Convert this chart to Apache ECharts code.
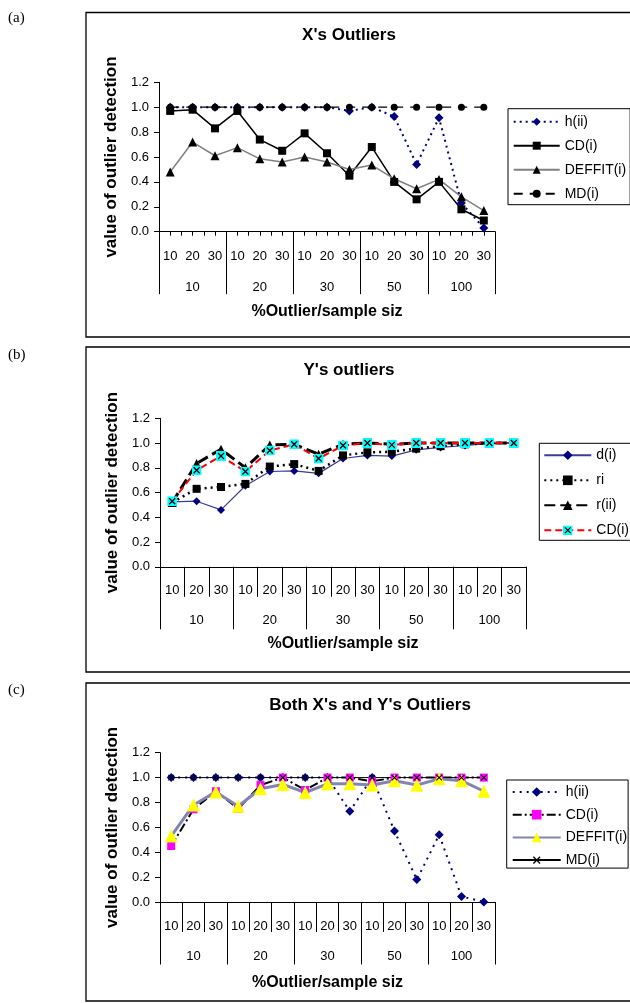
<!DOCTYPE html>
<html><head><meta charset="utf-8">
<script src="https://cdn.jsdelivr.net/npm/echarts@6/dist/echarts.min.js"></script>
<style>html,body{margin:0;padding:0;background:#fff}#c{width:630px;height:1003px}</style>
</head><body><div id="c"></div>
<script>
// ---------- data ----------
const subLabels = ['10','20','30','10','20','30','10','20','30','10','20','30','10','20','30'];
const groupLabels = ['10','20','30','50','100'];
const xTitle = '%Outlier/sample siz';
const yTitle = 'value of outlier detection';
const titles = ["X's Outliers", "Y's outliers", "Both X's and Y's Outliers"];
const panelLabels = ['(a)', '(b)', '(c)'];

// (a) X's outliers
const aH   = [1.0,1.0,1.0,1.0,1.0,1.0,1.0,1.0,0.97,1.0,0.925,0.54,0.915,0.23,0.03];
const aCD  = [0.97,0.98,0.83,0.97,0.74,0.65,0.79,0.63,0.45,0.68,0.40,0.26,0.40,0.18,0.09];
const aDF  = [0.48,0.72,0.61,0.675,0.585,0.56,0.60,0.56,0.50,0.535,0.425,0.345,0.42,0.28,0.17];
const aMD  = [1.0,1.0,1.0,1.0,1.0,1.0,1.0,1.0,1.0,1.0,1.0,1.0,1.0,1.0,1.0];

// (b) Y's outliers
const bD   = [0.525,0.53,0.46,0.655,0.77,0.775,0.755,0.875,0.90,0.895,0.945,0.965,0.98,0.995,1.0];
const bRi  = [0.52,0.63,0.645,0.67,0.81,0.83,0.775,0.90,0.925,0.93,0.955,0.975,0.99,1.0,1.0];
const bR   = [0.52,0.835,0.95,0.80,0.985,0.99,0.91,0.99,1.0,0.99,1.0,1.0,1.0,1.0,1.0];
const bCD  = [0.53,0.78,0.895,0.77,0.94,0.99,0.875,0.98,1.0,0.985,1.0,1.0,1.0,1.0,1.0];

// (c) Both X's and Y's outliers
const cH   = [1.0,1.0,1.0,1.0,1.0,1.0,1.0,1.0,0.73,1.0,0.57,0.18,0.54,0.045,0.0];
const cCD  = [0.45,0.745,0.89,0.75,0.94,1.0,0.90,1.0,1.0,0.97,1.0,1.0,1.0,1.0,1.0];
const cDF  = [0.53,0.78,0.885,0.77,0.91,0.945,0.88,0.95,0.95,0.94,0.975,0.94,0.99,0.975,0.89];
const cMD  = [1.0,1.0,1.0,1.0,1.0,1.0,1.0,1.0,1.0,1.0,1.0,1.0,1.0,1.0,1.0];

// ---------- styling ----------
const F = "'Liberation Sans', Arial, sans-serif";
const svgSym = s => 'image://data:image/svg+xml;charset=utf-8,' + encodeURIComponent(s);
const cyanX = svgSym("<svg xmlns='http://www.w3.org/2000/svg' width='20' height='20' viewBox='0 0 20 20'><rect width='20' height='20' fill='#00FFFF'/><path d='M4 4L16 16M16 4L4 16' stroke='#000' stroke-width='2.6'/></svg>");
const xMark = svgSym("<svg xmlns='http://www.w3.org/2000/svg' width='20' height='20' viewBox='0 0 20 20'><path d='M3 3L17 17M17 3L3 17' stroke='#000' stroke-width='2.6'/></svg>");

const grids = [
  {left:159, top:82.3, width:336, height:149.4},
  {left:160, top:418.3, width:366, height:148.5},
  {left:160, top:752.7, width:335, height:149.3}
];

function yAx(gi){
  return {type:'value', gridIndex:gi, min:0, max:1.2, interval:0.2,
    axisLine:{show:true, onZero:false, lineStyle:{color:'#000', width:1}},
    axisTick:{show:true, length:5, lineStyle:{color:'#000'}},
    axisLabel:{color:'#000', fontSize:13, fontFamily:F, margin:10, formatter:v=>v.toFixed(1)},
    splitLine:{show:false},
    name:yTitle, nameLocation:'middle', nameGap:33,
    nameTextStyle:{fontWeight:'bold', fontSize:17, fontFamily:F, color:'#000'}};
}
function xMain(gi, tickLen, showTick, margin, nameGap){
  return {type:'category', gridIndex:gi, position:'bottom', data:subLabels, boundaryGap:true,
    axisLine:{show:true, onZero:false, lineStyle:{color:'#000', width:1}},
    axisTick:{show:showTick, length:tickLen, interval:0, lineStyle:{color:'#000'}},
    axisLabel:{interval:0, color:'#000', fontSize:13, fontFamily:F, margin:margin},
    splitLine:{show:false},
    name:xTitle, nameLocation:'middle', nameGap:nameGap,
    nameTextStyle:{fontWeight:'bold', fontSize:16, fontFamily:F, color:'#000'}};
}
function xGroup(gi, margin){
  return {type:'category', gridIndex:gi, position:'bottom', offset:0, data:groupLabels, boundaryGap:true,
    axisLine:{show:false},
    axisTick:{show:true, length:62.5, interval:0, lineStyle:{color:'#000'}},
    axisLabel:{interval:0, color:'#000', fontSize:13, fontFamily:F, margin:margin},
    splitLine:{show:false}};
}
const halfTicks = {type:'value', gridIndex:0, position:'bottom', offset:0, min:0, max:30, interval:1,
  axisLine:{show:false}, axisTick:{show:true, length:4, lineStyle:{color:'#000'}},
  axisLabel:{show:false}, splitLine:{show:false}};

function ln(name, data, xi, yi, o){
  return Object.assign({type:'line', name:name, data:data, xAxisIndex:xi, yAxisIndex:yi,
    animation:false, showSymbol:true, z:2}, o);
}
const navy = '#000080';
const series = [
  // (a)
  ln('h(ii)', aH, 0, 0, {symbol:'diamond', symbolSize:9, itemStyle:{color:navy}, lineStyle:{color:navy, width:2, type:[2,4]}}),
  ln('CD(i)', aCD, 0, 0, {symbol:'rect', symbolSize:8, itemStyle:{color:'#000'}, lineStyle:{color:'#000', width:1.5, type:'solid'}}),
  ln('DEFFIT(i)', aDF, 0, 0, {symbol:'triangle', symbolSize:9, itemStyle:{color:'#000'}, lineStyle:{color:'#808080', width:1.5, type:'solid'}}),
  ln('MD(i)', aMD, 0, 0, {symbol:'circle', symbolSize:7, itemStyle:{color:'#000'}, lineStyle:{color:'#000', width:1.2, type:[9,7]}}),
  // (b)
  ln('d(i)', bD, 3, 1, {symbol:'diamond', symbolSize:8, itemStyle:{color:navy}, lineStyle:{color:'#3B3B98', width:1.2, type:'solid'}}),
  ln('ri', bRi, 3, 1, {symbol:'rect', symbolSize:8, itemStyle:{color:'#000'}, lineStyle:{color:'#000', width:2.5, type:[2,4]}}),
  ln('r(ii)', bR, 3, 1, {symbol:'triangle', symbolSize:9, itemStyle:{color:'#000'}, lineStyle:{color:'#000', width:3, type:[11,5]}}),
  ln('CD(i)#b', bCD, 3, 1, {symbol:cyanX, symbolSize:10, itemStyle:{color:'#00FFFF'}, lineStyle:{color:'#FF0000', width:2, type:[7,4]}}),
  // (c)
  ln('h(ii)#c', cH, 5, 2, {symbol:'diamond', symbolSize:9, itemStyle:{color:navy}, lineStyle:{color:navy, width:2, type:[2,5]}}),
  ln('CD(i)#c', cCD, 5, 2, {symbol:'rect', symbolSize:8, itemStyle:{color:'#FF00FF'}, lineStyle:{color:'#000', width:2, type:[9,3,2,3]}}),
  ln('DEFFIT(i)#c', cDF, 5, 2, {symbol:'triangle', symbolSize:13, itemStyle:{color:'#FFFF00'}, lineStyle:{color:'#8484B0', width:3, type:'solid'}}),
  ln('MD(i)#c', cMD, 5, 2, {symbol:xMark, symbolSize:8, itemStyle:{color:'#000'}, lineStyle:{color:'#000', width:1, type:'solid'}})
];

function leg(names, left, top, itemW, itemH, gap, pad){
  return {data:names, left:left, top:top, orient:'vertical', itemWidth:itemW, itemHeight:itemH, itemGap:gap,
    padding:pad, borderColor:'#000', borderWidth:1, backgroundColor:'#fff', selectedMode:false,
    textStyle:{fontSize:14, fontFamily:F, color:'#000', lineHeight:14},
    formatter:n=>n.split('#')[0]};
}

function box(y, h){ return {type:'rect', shape:{x:86, y:y, width:600, height:h}, style:{fill:'none', stroke:'#000', lineWidth:1.3}, z:-10}; }
function txt(x, y, t, font, align){ return {type:'text', x:x, y:y, style:{text:t, font:font, fill:'#000', align:align||'center', verticalAlign:'middle'}, z:5}; }

const option = {
  backgroundColor:'#fff',
  animation:false,
  grid: grids,
  xAxis: [xMain(0, 5, false, 18, 72), xGroup(0, 49), halfTicks,
          xMain(1, 30, true, 17, 68.5), xGroup(1, 47),
          xMain(2, 30, true, 17.5, 72.5), xGroup(2, 48)],
  yAxis: [yAx(0), yAx(1), yAx(2)],
  legend: [
    leg(['h(ii)','CD(i)','DEFFIT(i)','MD(i)'], 508, 108.7, 46, 10, 10, [6,4,4,4.7]),
    leg(['d(i)','ri','r(ii)','CD(i)#b'], 539.3, 443.3, 47, 12, 11, [5,3,3,4]),
    leg(['h(ii)#c','CD(i)#c','DEFFIT(i)#c','MD(i)#c'], 506.7, 780, 48, 12, 8.7, [5,1,1,5])
  ],
  graphic: [
    box(12.5, 324.5), box(347, 325), box(683, 318),
    txt(8, 18, panelLabels[0], "15px 'Liberation Serif', serif", 'left'),
    txt(8, 355, panelLabels[1], "15px 'Liberation Serif', serif", 'left'),
    txt(8, 690, panelLabels[2], "15px 'Liberation Serif', serif", 'left'),
    txt(349, 35, titles[0], "bold 17px " + F),
    txt(349, 370, titles[1], "bold 17px " + F),
    txt(370, 705, titles[2], "bold 17px " + F)
  ],
  series: series
};
const chart = echarts.init(document.getElementById('c'), null, {renderer:'canvas'});
chart.setOption(option);
</script></body></html>
